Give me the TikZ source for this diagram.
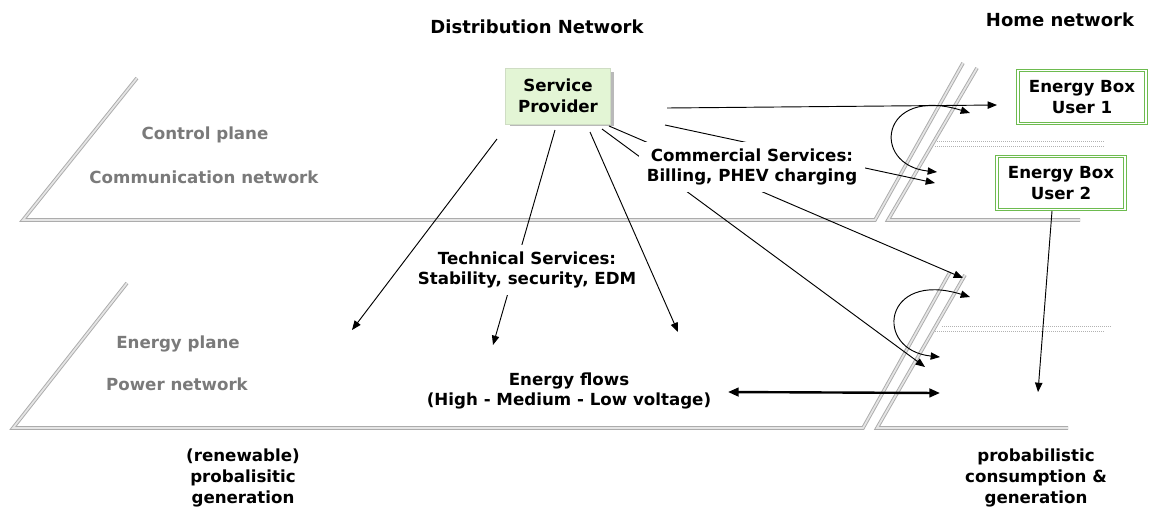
\documentclass[tikz,border=0pt]{standalone}
\usepackage{fontspec}
\setmainfont{DejaVu Sans}
\usetikzlibrary{arrows.meta}
\definecolor{plgray}{HTML}{7A7A7A}
\definecolor{spfill}{HTML}{E3F5D5}
\definecolor{ebgreen}{HTML}{6DBB4F}
\tikzset{
  txt/.style={font=\bfseries\fontsize{12.5}{15.5}\selectfont, align=center, inner sep=0pt},
  ptxt/.style={txt, text=plgray},
  title/.style={font=\bfseries\fontsize{13.5}{15}\selectfont, inner sep=0pt},
  planeline/.style={draw=gray!65, double=gray!20, double distance=1.3pt, line width=0.7pt, line join=miter},
  conn/.style={line width=0.7pt, -{Triangle[length=7pt,width=5.5pt]}},
  biconn/.style={line width=0.7pt, {Triangle[length=7pt,width=5.5pt]}-{Triangle[length=7pt,width=5.5pt]}},
  flowconn/.style={line width=1.8pt, {Triangle[length=8pt,width=6.5pt]}-{Triangle[length=8pt,width=6.5pt]}},
  dots/.style={gray!60, densely dotted, line width=0.5pt},
  spbox/.style={txt, fill=spfill, minimum width=105*0.75pt, minimum height=56*0.75pt, draw=spfill!80!gray},
  ebox/.style={txt, draw=ebgreen, double=white, double distance=1.3pt, line width=0.6pt,
    minimum width=128*0.75pt, minimum height=53*0.75pt},
  lbl/.style={txt, fill=white, inner xsep=2pt, inner ysep=5pt},
}
\begin{document}
\begin{tikzpicture}[x=0.75pt,y=-0.75pt]
\useasboundingbox[fill=white] (0,0) rectangle (1149,508);

% planes
\draw[planeline] (137,78) -- (23,220) -- (875,220) -- (963,63);
\draw[planeline] (977,68) -- (888,220) -- (1080,220);
\draw[planeline] (127,283) -- (13,428) -- (863,428) -- (950,272);
\draw[planeline] (965,275) -- (877,428) -- (1068,428);

% dotted lines
\draw[dots] (937,141) -- (1105,141);
\draw[dots] (935,146) -- (1105,146);
\draw[dots] (942,326) -- (1112,326);
\draw[dots] (935,331) -- (1105,331);

% titles and plane labels
\node[title] (tdist) at (537,27) {Distribution Network};
\node[title] (thome) at (1060,20) {Home network};
\node[ptxt] (ctrl) at (205,135) {Control plane};
\node[ptxt] (comm) at (204,177) {Communication network};
\node[ptxt] (eplane) at (178,344) {Energy plane};
\node[ptxt] (pnet) at (177,384) {Power network};
\node[txt] (gen1) at (243,478) {(renewable)\\probalisitic\\generation};
\node[txt] (gen2) at (1036,478) {probabilistic\\consumption \&\\generation};

% boxes
\fill[gray!55] (510,72) rectangle (614,126);
\node[spbox] (sp) at (558,96) {Service\\Provider};
\node[ebox] (eb1) at (1082,97) {Energy Box\\User 1};
\node[ebox] (eb2) at (1061,183) {Energy Box\\User 2};

% connector end points
\coordinate (s1) at (497,139); \coordinate (e1) at (352,330);
\coordinate (s2) at (555,130); \coordinate (e2) at (493,345);
\coordinate (s3) at (590,132); \coordinate (e3) at (678,332);
\coordinate (s4) at (602,129); \coordinate (e4) at (925,367);
\coordinate (s5) at (609,126); \coordinate (e5) at (963,278);
\coordinate (s6) at (665,125); \coordinate (e6) at (935,183);
\coordinate (s7) at (667,108); \coordinate (e7) at (997,105);
\coordinate (s8) at (1052,211); \coordinate (e8) at (1038,392);
\coordinate (fl1) at (728,392); \coordinate (fl2) at (940,393);
\coordinate (c1a) at (937,172); \coordinate (c1b) at (970,113);
\coordinate (c2a) at (940,357); \coordinate (c2b) at (970,297);

\draw[conn] (s2) -- (e2);
\draw[conn] (s3) -- (e3);
\draw[conn] (s4) -- (e4);
\draw[conn] (s5) -- (e5);
\draw[conn] (s6) -- (e6);
\draw[conn] (s7) -- (e7);
\draw[conn] (s8) -- (e8);
\draw[flowconn] (fl1) -- (fl2);
\draw[biconn] (c1a) .. controls (870,165) and (880,85) .. (c1b);
\draw[biconn] (c2a) .. controls (873,350) and (883,270) .. (c2b);

% labels over lines
\node[lbl] (tech) at (527,270) {Technical Services:\\Stability, security, EDM};
\node[lbl, inner xsep=6pt] (comms) at (752,167) {Commercial Services:\\Billing, PHEV charging};
\node[txt] (flows) at (569,391) {Energy flows\\(High - Medium - Low voltage)};

% arrow passing beside the technical label
\draw[conn] (s1) -- (e1);
\end{tikzpicture}
\end{document}
